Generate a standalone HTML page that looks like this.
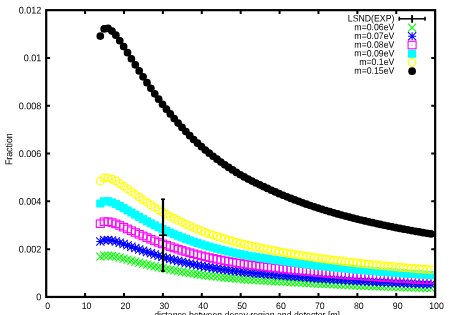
<!DOCTYPE html>
<html><head><meta charset="utf-8"><title>plot</title>
<style>html,body{margin:0;padding:0;background:#fff;overflow:hidden}svg{display:block;will-change:transform;transform:translateZ(0)}text{font-family:"Liberation Sans",sans-serif;font-size:9.4px;fill:#000}</style></head>
<body>
<svg width="450" height="315" viewBox="0 0 450 315">
<rect width="450" height="315" fill="#fff"/>
<defs>
<g id="g"><path d="M-4-4L4 4M-4 4L4-4" stroke="#00ff00" stroke-width="1.1" fill="none"/></g>
<g id="b"><path d="M-4.1-4.1L4.1 4.1M-4.1 4.1L4.1-4.1M-4 0H4M0-4V4" stroke="#0000ff" stroke-width="1.1" fill="none"/></g>
<g id="m"><rect x="-4" y="-3.75" width="8" height="7.5" stroke="#ff00ff" stroke-width="1.1" fill="none"/><rect x="-.6" y="-.6" width="1.2" height="1.2" fill="#ff00ff" opacity=".6"/></g>
<g id="c"><rect x="-4.1" y="-4" width="8.2" height="8" fill="#00ffff"/></g>
<g id="y"><circle r="3.8" stroke="#ffff00" stroke-width="1.25" fill="none"/><rect x="-.7" y="-.4" width="1.4" height=".8" fill="#ffff00" opacity=".8"/></g>
<g id="k"><circle r="3.85" fill="#000"/></g>
</defs>
<g text-anchor="middle">
<text transform="translate(47.60 308.90) rotate(0.05) scale(0.93 1)" text-anchor="middle">0</text>
<text transform="translate(86.50 308.90) rotate(0.05) scale(0.93 1)" text-anchor="middle">10</text>
<text transform="translate(125.39 308.90) rotate(0.05) scale(0.93 1)" text-anchor="middle">20</text>
<text transform="translate(164.28 308.90) rotate(0.05) scale(0.93 1)" text-anchor="middle">30</text>
<text transform="translate(203.18 308.90) rotate(0.05) scale(0.93 1)" text-anchor="middle">40</text>
<text transform="translate(242.08 308.90) rotate(0.05) scale(0.93 1)" text-anchor="middle">50</text>
<text transform="translate(280.97 308.90) rotate(0.05) scale(0.93 1)" text-anchor="middle">60</text>
<text transform="translate(319.86 308.90) rotate(0.05) scale(0.93 1)" text-anchor="middle">70</text>
<text transform="translate(358.76 308.90) rotate(0.05) scale(0.93 1)" text-anchor="middle">80</text>
<text transform="translate(397.65 308.90) rotate(0.05) scale(0.93 1)" text-anchor="middle">90</text>
<text transform="translate(436.55 308.90) rotate(0.05) scale(0.93 1)" text-anchor="middle">100</text>
</g>
<g text-anchor="end">
<text transform="translate(41.40 300.35) rotate(0.05) scale(0.925 1)" text-anchor="end" style="font-size:9.8px">0</text>
<text transform="translate(41.40 252.55) rotate(0.05) scale(0.925 1)" text-anchor="end" style="font-size:9.8px">0.002</text>
<text transform="translate(41.40 204.75) rotate(0.05) scale(0.925 1)" text-anchor="end" style="font-size:9.8px">0.004</text>
<text transform="translate(41.40 156.95) rotate(0.05) scale(0.925 1)" text-anchor="end" style="font-size:9.8px">0.006</text>
<text transform="translate(41.40 109.15) rotate(0.05) scale(0.925 1)" text-anchor="end" style="font-size:9.8px">0.008</text>
<text transform="translate(41.40 61.35) rotate(0.05) scale(0.925 1)" text-anchor="end" style="font-size:9.8px">0.01</text>
<text transform="translate(41.40 13.55) rotate(0.05) scale(0.925 1)" text-anchor="end" style="font-size:9.8px">0.012</text>
</g>
<text transform="translate(12.30 149.20) rotate(-89.95) scale(0.88 1)" text-anchor="middle" style="font-size:10px">Fraction</text>
<text transform="translate(247.10 318.00) rotate(0.05) scale(0.93 1)" text-anchor="middle">distance between decay region and detector [m]</text>
<g text-anchor="end">
<text transform="translate(394.40 21.60) rotate(0.05) scale(0.93 1)" text-anchor="end">LSND(EXP)</text>
<text transform="translate(394.40 30.30) rotate(0.05) scale(0.93 1)" text-anchor="end">m=0.06eV</text>
<text transform="translate(394.40 39.00) rotate(0.05) scale(0.93 1)" text-anchor="end">m=0.07eV</text>
<text transform="translate(394.40 47.70) rotate(0.05) scale(0.93 1)" text-anchor="end">m=0.08eV</text>
<text transform="translate(394.40 56.40) rotate(0.05) scale(0.93 1)" text-anchor="end">m=0.09eV</text>
<text transform="translate(394.40 65.10) rotate(0.05) scale(0.93 1)" text-anchor="end">m=0.1eV</text>
<text transform="translate(394.40 73.80) rotate(0.05) scale(0.93 1)" text-anchor="end">m=0.15eV</text>
</g>
<g><use href="#g" x="100.30" y="256.68"/><use href="#g" x="104.19" y="255.57"/><use href="#g" x="108.08" y="255.53"/><use href="#g" x="111.97" y="256.00"/><use href="#g" x="115.86" y="256.69"/><use href="#g" x="119.75" y="257.63"/><use href="#g" x="123.64" y="258.61"/><use href="#g" x="127.53" y="259.61"/><use href="#g" x="131.42" y="260.62"/><use href="#g" x="135.31" y="261.63"/><use href="#g" x="139.20" y="262.64"/><use href="#g" x="143.09" y="263.62"/><use href="#g" x="146.98" y="264.59"/><use href="#g" x="150.87" y="265.53"/><use href="#g" x="154.76" y="266.44"/><use href="#g" x="158.65" y="267.33"/><use href="#g" x="162.54" y="268.18"/><use href="#g" x="166.43" y="268.96"/><use href="#g" x="170.32" y="269.70"/><use href="#g" x="174.21" y="270.41"/><use href="#g" x="178.10" y="271.12"/><use href="#g" x="181.99" y="271.80"/><use href="#g" x="185.88" y="272.45"/><use href="#g" x="189.77" y="273.08"/><use href="#g" x="193.66" y="273.68"/><use href="#g" x="197.55" y="274.25"/><use href="#g" x="201.44" y="274.80"/><use href="#g" x="205.33" y="275.30"/><use href="#g" x="209.22" y="275.78"/><use href="#g" x="213.11" y="276.23"/><use href="#g" x="217.00" y="276.67"/><use href="#g" x="220.89" y="277.09"/><use href="#g" x="224.78" y="277.50"/><use href="#g" x="228.67" y="277.88"/><use href="#g" x="232.56" y="278.25"/><use href="#g" x="236.45" y="278.61"/><use href="#g" x="240.34" y="278.95"/><use href="#g" x="244.23" y="279.26"/><use href="#g" x="248.12" y="279.54"/><use href="#g" x="252.01" y="279.82"/><use href="#g" x="255.90" y="280.07"/><use href="#g" x="259.79" y="280.32"/><use href="#g" x="263.68" y="280.56"/><use href="#g" x="267.57" y="280.80"/><use href="#g" x="271.46" y="281.03"/><use href="#g" x="275.35" y="281.26"/><use href="#g" x="279.24" y="281.47"/><use href="#g" x="283.13" y="281.72"/><use href="#g" x="287.02" y="281.95"/><use href="#g" x="290.91" y="282.18"/><use href="#g" x="294.80" y="282.41"/><use href="#g" x="298.69" y="282.62"/><use href="#g" x="302.58" y="282.83"/><use href="#g" x="306.47" y="283.04"/><use href="#g" x="310.36" y="283.23"/><use href="#g" x="314.25" y="283.43"/><use href="#g" x="318.14" y="283.61"/><use href="#g" x="322.03" y="283.82"/><use href="#g" x="325.92" y="284.02"/><use href="#g" x="329.81" y="284.22"/><use href="#g" x="333.70" y="284.41"/><use href="#g" x="337.59" y="284.60"/><use href="#g" x="341.48" y="284.78"/><use href="#g" x="345.37" y="284.96"/><use href="#g" x="349.26" y="285.14"/><use href="#g" x="353.15" y="285.31"/><use href="#g" x="357.04" y="285.48"/><use href="#g" x="360.93" y="285.64"/><use href="#g" x="364.82" y="285.80"/><use href="#g" x="368.71" y="285.96"/><use href="#g" x="372.60" y="286.11"/><use href="#g" x="376.49" y="286.26"/><use href="#g" x="380.38" y="286.41"/><use href="#g" x="384.27" y="286.55"/><use href="#g" x="388.16" y="286.69"/><use href="#g" x="392.05" y="286.83"/><use href="#g" x="395.94" y="286.97"/><use href="#g" x="399.83" y="287.10"/><use href="#g" x="403.72" y="287.23"/><use href="#g" x="407.61" y="287.36"/><use href="#g" x="411.50" y="287.48"/><use href="#g" x="415.39" y="287.60"/><use href="#g" x="419.28" y="287.72"/><use href="#g" x="423.17" y="287.84"/><use href="#g" x="427.06" y="287.96"/><use href="#g" x="430.95" y="288.07"/></g>
<g><use href="#b" x="100.30" y="241.51"/><use href="#b" x="104.19" y="239.98"/><use href="#b" x="108.08" y="239.91"/><use href="#b" x="111.97" y="240.53"/><use href="#b" x="115.86" y="241.45"/><use href="#b" x="119.75" y="242.71"/><use href="#b" x="123.64" y="244.03"/><use href="#b" x="127.53" y="245.38"/><use href="#b" x="131.42" y="246.74"/><use href="#b" x="135.31" y="248.10"/><use href="#b" x="139.20" y="249.45"/><use href="#b" x="143.09" y="250.78"/><use href="#b" x="146.98" y="252.08"/><use href="#b" x="150.87" y="253.34"/><use href="#b" x="154.76" y="254.57"/><use href="#b" x="158.65" y="255.76"/><use href="#b" x="162.54" y="256.91"/><use href="#b" x="166.43" y="257.97"/><use href="#b" x="170.32" y="258.99"/><use href="#b" x="174.21" y="259.97"/><use href="#b" x="178.10" y="260.93"/><use href="#b" x="181.99" y="261.87"/><use href="#b" x="185.88" y="262.77"/><use href="#b" x="189.77" y="263.63"/><use href="#b" x="193.66" y="264.45"/><use href="#b" x="197.55" y="265.23"/><use href="#b" x="201.44" y="265.99"/><use href="#b" x="205.33" y="266.68"/><use href="#b" x="209.22" y="267.35"/><use href="#b" x="213.11" y="267.98"/><use href="#b" x="217.00" y="268.59"/><use href="#b" x="220.89" y="269.18"/><use href="#b" x="224.78" y="269.74"/><use href="#b" x="228.67" y="270.28"/><use href="#b" x="232.56" y="270.80"/><use href="#b" x="236.45" y="271.30"/><use href="#b" x="240.34" y="271.78"/><use href="#b" x="244.23" y="272.22"/><use href="#b" x="248.12" y="272.63"/><use href="#b" x="252.01" y="273.02"/><use href="#b" x="255.90" y="273.40"/><use href="#b" x="259.79" y="273.75"/><use href="#b" x="263.68" y="274.10"/><use href="#b" x="267.57" y="274.45"/><use href="#b" x="271.46" y="274.79"/><use href="#b" x="275.35" y="275.12"/><use href="#b" x="279.24" y="275.43"/><use href="#b" x="283.13" y="275.77"/><use href="#b" x="287.02" y="276.10"/><use href="#b" x="290.91" y="276.42"/><use href="#b" x="294.80" y="276.73"/><use href="#b" x="298.69" y="277.04"/><use href="#b" x="302.58" y="277.33"/><use href="#b" x="306.47" y="277.61"/><use href="#b" x="310.36" y="277.89"/><use href="#b" x="314.25" y="278.15"/><use href="#b" x="318.14" y="278.41"/><use href="#b" x="322.03" y="278.69"/><use href="#b" x="325.92" y="278.96"/><use href="#b" x="329.81" y="279.23"/><use href="#b" x="333.70" y="279.48"/><use href="#b" x="337.59" y="279.74"/><use href="#b" x="341.48" y="279.98"/><use href="#b" x="345.37" y="280.22"/><use href="#b" x="349.26" y="280.45"/><use href="#b" x="353.15" y="280.68"/><use href="#b" x="357.04" y="280.91"/><use href="#b" x="360.93" y="281.12"/><use href="#b" x="364.82" y="281.34"/><use href="#b" x="368.71" y="281.55"/><use href="#b" x="372.60" y="281.75"/><use href="#b" x="376.49" y="281.95"/><use href="#b" x="380.38" y="282.14"/><use href="#b" x="384.27" y="282.34"/><use href="#b" x="388.16" y="282.52"/><use href="#b" x="392.05" y="282.71"/><use href="#b" x="395.94" y="282.89"/><use href="#b" x="399.83" y="283.06"/><use href="#b" x="403.72" y="283.23"/><use href="#b" x="407.61" y="283.40"/><use href="#b" x="411.50" y="283.57"/><use href="#b" x="415.39" y="283.73"/><use href="#b" x="419.28" y="283.89"/><use href="#b" x="423.17" y="284.05"/><use href="#b" x="427.06" y="284.20"/><use href="#b" x="430.95" y="284.35"/></g>
<g><use href="#m" x="100.30" y="223.71"/><use href="#m" x="104.19" y="221.74"/><use href="#m" x="108.08" y="221.69"/><use href="#m" x="111.97" y="222.58"/><use href="#m" x="115.86" y="223.87"/><use href="#m" x="119.75" y="225.50"/><use href="#m" x="123.64" y="227.20"/><use href="#m" x="127.53" y="228.95"/><use href="#m" x="131.42" y="230.71"/><use href="#m" x="135.31" y="232.48"/><use href="#m" x="139.20" y="234.23"/><use href="#m" x="143.09" y="235.96"/><use href="#m" x="146.98" y="237.64"/><use href="#m" x="150.87" y="239.28"/><use href="#m" x="154.76" y="240.87"/><use href="#m" x="158.65" y="242.41"/><use href="#m" x="162.54" y="243.90"/><use href="#m" x="166.43" y="245.29"/><use href="#m" x="170.32" y="246.63"/><use href="#m" x="174.21" y="247.91"/><use href="#m" x="178.10" y="249.18"/><use href="#m" x="181.99" y="250.41"/><use href="#m" x="185.88" y="251.59"/><use href="#m" x="189.77" y="252.72"/><use href="#m" x="193.66" y="253.80"/><use href="#m" x="197.55" y="254.83"/><use href="#m" x="201.44" y="255.82"/><use href="#m" x="205.33" y="256.74"/><use href="#m" x="209.22" y="257.62"/><use href="#m" x="213.11" y="258.46"/><use href="#m" x="217.00" y="259.27"/><use href="#m" x="220.89" y="260.05"/><use href="#m" x="224.78" y="260.80"/><use href="#m" x="228.67" y="261.52"/><use href="#m" x="232.56" y="262.21"/><use href="#m" x="236.45" y="262.87"/><use href="#m" x="240.34" y="263.51"/><use href="#m" x="244.23" y="264.10"/><use href="#m" x="248.12" y="264.65"/><use href="#m" x="252.01" y="265.19"/><use href="#m" x="255.90" y="265.69"/><use href="#m" x="259.79" y="266.18"/><use href="#m" x="263.68" y="266.64"/><use href="#m" x="267.57" y="267.12"/><use href="#m" x="271.46" y="267.58"/><use href="#m" x="275.35" y="268.03"/><use href="#m" x="279.24" y="268.46"/><use href="#m" x="283.13" y="268.91"/><use href="#m" x="287.02" y="269.35"/><use href="#m" x="290.91" y="269.77"/><use href="#m" x="294.80" y="270.19"/><use href="#m" x="298.69" y="270.59"/><use href="#m" x="302.58" y="270.97"/><use href="#m" x="306.47" y="271.35"/><use href="#m" x="310.36" y="271.72"/><use href="#m" x="314.25" y="272.07"/><use href="#m" x="318.14" y="272.42"/><use href="#m" x="322.03" y="272.78"/><use href="#m" x="325.92" y="273.13"/><use href="#m" x="329.81" y="273.47"/><use href="#m" x="333.70" y="273.80"/><use href="#m" x="337.59" y="274.12"/><use href="#m" x="341.48" y="274.44"/><use href="#m" x="345.37" y="274.75"/><use href="#m" x="349.26" y="275.05"/><use href="#m" x="353.15" y="275.35"/><use href="#m" x="357.04" y="275.63"/><use href="#m" x="360.93" y="275.91"/><use href="#m" x="364.82" y="276.19"/><use href="#m" x="368.71" y="276.46"/><use href="#m" x="372.60" y="276.72"/><use href="#m" x="376.49" y="276.98"/><use href="#m" x="380.38" y="277.23"/><use href="#m" x="384.27" y="277.47"/><use href="#m" x="388.16" y="277.71"/><use href="#m" x="392.05" y="277.95"/><use href="#m" x="395.94" y="278.18"/><use href="#m" x="399.83" y="278.40"/><use href="#m" x="403.72" y="278.62"/><use href="#m" x="407.61" y="278.84"/><use href="#m" x="411.50" y="279.05"/><use href="#m" x="415.39" y="279.26"/><use href="#m" x="419.28" y="279.46"/><use href="#m" x="423.17" y="279.66"/><use href="#m" x="427.06" y="279.86"/><use href="#m" x="430.95" y="280.05"/></g>
<g><use href="#c" x="100.30" y="203.50"/><use href="#c" x="104.19" y="201.26"/><use href="#c" x="108.08" y="201.19"/><use href="#c" x="111.97" y="202.44"/><use href="#c" x="115.86" y="203.94"/><use href="#c" x="119.75" y="205.99"/><use href="#c" x="123.64" y="208.13"/><use href="#c" x="127.53" y="210.33"/><use href="#c" x="131.42" y="212.56"/><use href="#c" x="135.31" y="214.78"/><use href="#c" x="139.20" y="216.99"/><use href="#c" x="143.09" y="219.16"/><use href="#c" x="146.98" y="221.28"/><use href="#c" x="150.87" y="223.35"/><use href="#c" x="154.76" y="225.35"/><use href="#c" x="158.65" y="227.29"/><use href="#c" x="162.54" y="229.16"/><use href="#c" x="166.43" y="230.92"/><use href="#c" x="170.32" y="232.62"/><use href="#c" x="174.21" y="234.25"/><use href="#c" x="178.10" y="235.86"/><use href="#c" x="181.99" y="237.42"/><use href="#c" x="185.88" y="238.92"/><use href="#c" x="189.77" y="240.36"/><use href="#c" x="193.66" y="241.73"/><use href="#c" x="197.55" y="243.04"/><use href="#c" x="201.44" y="244.30"/><use href="#c" x="205.33" y="245.47"/><use href="#c" x="209.22" y="246.59"/><use href="#c" x="213.11" y="247.67"/><use href="#c" x="217.00" y="248.71"/><use href="#c" x="220.89" y="249.70"/><use href="#c" x="224.78" y="250.66"/><use href="#c" x="228.67" y="251.58"/><use href="#c" x="232.56" y="252.47"/><use href="#c" x="236.45" y="253.32"/><use href="#c" x="240.34" y="254.14"/><use href="#c" x="244.23" y="254.89"/><use href="#c" x="248.12" y="255.61"/><use href="#c" x="252.01" y="256.30"/><use href="#c" x="255.90" y="256.96"/><use href="#c" x="259.79" y="257.59"/><use href="#c" x="263.68" y="258.20"/><use href="#c" x="267.57" y="258.81"/><use href="#c" x="271.46" y="259.42"/><use href="#c" x="275.35" y="260.00"/><use href="#c" x="279.24" y="260.56"/><use href="#c" x="283.13" y="261.13"/><use href="#c" x="287.02" y="261.69"/><use href="#c" x="290.91" y="262.24"/><use href="#c" x="294.80" y="262.77"/><use href="#c" x="298.69" y="263.28"/><use href="#c" x="302.58" y="263.77"/><use href="#c" x="306.47" y="264.26"/><use href="#c" x="310.36" y="264.72"/><use href="#c" x="314.25" y="265.18"/><use href="#c" x="318.14" y="265.62"/><use href="#c" x="322.03" y="266.07"/><use href="#c" x="325.92" y="266.51"/><use href="#c" x="329.81" y="266.94"/><use href="#c" x="333.70" y="267.36"/><use href="#c" x="337.59" y="267.77"/><use href="#c" x="341.48" y="268.16"/><use href="#c" x="345.37" y="268.55"/><use href="#c" x="349.26" y="268.93"/><use href="#c" x="353.15" y="269.30"/><use href="#c" x="357.04" y="269.66"/><use href="#c" x="360.93" y="270.01"/><use href="#c" x="364.82" y="270.35"/><use href="#c" x="368.71" y="270.69"/><use href="#c" x="372.60" y="271.02"/><use href="#c" x="376.49" y="271.34"/><use href="#c" x="380.38" y="271.65"/><use href="#c" x="384.27" y="271.96"/><use href="#c" x="388.16" y="272.26"/><use href="#c" x="392.05" y="272.55"/><use href="#c" x="395.94" y="272.84"/><use href="#c" x="399.83" y="273.12"/><use href="#c" x="403.72" y="273.40"/><use href="#c" x="407.61" y="273.67"/><use href="#c" x="411.50" y="273.93"/><use href="#c" x="415.39" y="274.19"/><use href="#c" x="419.28" y="274.45"/><use href="#c" x="423.17" y="274.70"/><use href="#c" x="427.06" y="274.94"/><use href="#c" x="430.95" y="275.18"/></g>
<g><use href="#y" x="100.30" y="181.19"/><use href="#y" x="104.19" y="178.01"/><use href="#y" x="108.08" y="177.82"/><use href="#y" x="111.97" y="179.07"/><use href="#y" x="115.86" y="180.96"/><use href="#y" x="119.75" y="183.51"/><use href="#y" x="123.64" y="186.17"/><use href="#y" x="127.53" y="188.90"/><use href="#y" x="131.42" y="191.66"/><use href="#y" x="135.31" y="194.40"/><use href="#y" x="139.20" y="197.11"/><use href="#y" x="143.09" y="199.78"/><use href="#y" x="146.98" y="202.39"/><use href="#y" x="150.87" y="204.93"/><use href="#y" x="154.76" y="207.40"/><use href="#y" x="158.65" y="209.78"/><use href="#y" x="162.54" y="212.08"/><use href="#y" x="166.43" y="214.28"/><use href="#y" x="170.32" y="216.39"/><use href="#y" x="174.21" y="218.41"/><use href="#y" x="178.10" y="220.42"/><use href="#y" x="181.99" y="222.36"/><use href="#y" x="185.88" y="224.22"/><use href="#y" x="189.77" y="226.02"/><use href="#y" x="193.66" y="227.72"/><use href="#y" x="197.55" y="229.35"/><use href="#y" x="201.44" y="230.92"/><use href="#y" x="205.33" y="232.40"/><use href="#y" x="209.22" y="233.81"/><use href="#y" x="213.11" y="235.17"/><use href="#y" x="217.00" y="236.48"/><use href="#y" x="220.89" y="237.74"/><use href="#y" x="224.78" y="238.95"/><use href="#y" x="228.67" y="240.11"/><use href="#y" x="232.56" y="241.24"/><use href="#y" x="236.45" y="242.32"/><use href="#y" x="240.34" y="243.36"/><use href="#y" x="244.23" y="244.33"/><use href="#y" x="248.12" y="245.25"/><use href="#y" x="252.01" y="246.14"/><use href="#y" x="255.90" y="246.98"/><use href="#y" x="259.79" y="247.79"/><use href="#y" x="263.68" y="248.58"/><use href="#y" x="267.57" y="249.37"/><use href="#y" x="271.46" y="250.15"/><use href="#y" x="275.35" y="250.90"/><use href="#y" x="279.24" y="251.63"/><use href="#y" x="283.13" y="252.35"/><use href="#y" x="287.02" y="253.06"/><use href="#y" x="290.91" y="253.75"/><use href="#y" x="294.80" y="254.41"/><use href="#y" x="298.69" y="255.06"/><use href="#y" x="302.58" y="255.69"/><use href="#y" x="306.47" y="256.30"/><use href="#y" x="310.36" y="256.89"/><use href="#y" x="314.25" y="257.47"/><use href="#y" x="318.14" y="258.03"/><use href="#y" x="322.03" y="258.58"/><use href="#y" x="325.92" y="259.12"/><use href="#y" x="329.81" y="259.65"/><use href="#y" x="333.70" y="260.16"/><use href="#y" x="337.59" y="260.66"/><use href="#y" x="341.48" y="261.15"/><use href="#y" x="345.37" y="261.62"/><use href="#y" x="349.26" y="262.08"/><use href="#y" x="353.15" y="262.54"/><use href="#y" x="357.04" y="262.98"/><use href="#y" x="360.93" y="263.41"/><use href="#y" x="364.82" y="263.83"/><use href="#y" x="368.71" y="264.24"/><use href="#y" x="372.60" y="264.64"/><use href="#y" x="376.49" y="265.04"/><use href="#y" x="380.38" y="265.42"/><use href="#y" x="384.27" y="265.80"/><use href="#y" x="388.16" y="266.17"/><use href="#y" x="392.05" y="266.52"/><use href="#y" x="395.94" y="266.88"/><use href="#y" x="399.83" y="267.22"/><use href="#y" x="403.72" y="267.56"/><use href="#y" x="407.61" y="267.89"/><use href="#y" x="411.50" y="268.21"/><use href="#y" x="415.39" y="268.53"/><use href="#y" x="419.28" y="268.84"/><use href="#y" x="423.17" y="269.15"/><use href="#y" x="427.06" y="269.45"/><use href="#y" x="430.95" y="269.74"/></g>
<g><use href="#k" x="100.30" y="36.10"/><use href="#k" x="104.19" y="28.90"/><use href="#k" x="108.08" y="28.40"/><use href="#k" x="111.97" y="31.05"/><use href="#k" x="115.86" y="35.13"/><use href="#k" x="119.75" y="40.74"/><use href="#k" x="123.64" y="46.60"/><use href="#k" x="127.53" y="52.63"/><use href="#k" x="131.42" y="58.74"/><use href="#k" x="135.31" y="64.86"/><use href="#k" x="139.20" y="70.91"/><use href="#k" x="143.09" y="76.87"/><use href="#k" x="146.98" y="82.69"/><use href="#k" x="150.87" y="88.36"/><use href="#k" x="154.76" y="93.85"/><use href="#k" x="158.65" y="99.16"/><use href="#k" x="162.54" y="104.28"/><use href="#k" x="166.43" y="109.22"/><use href="#k" x="170.32" y="113.97"/><use href="#k" x="174.21" y="118.54"/><use href="#k" x="178.10" y="123.05"/><use href="#k" x="181.99" y="127.41"/><use href="#k" x="185.88" y="131.61"/><use href="#k" x="189.77" y="135.65"/><use href="#k" x="193.66" y="139.49"/><use href="#k" x="197.55" y="143.16"/><use href="#k" x="201.44" y="146.69"/><use href="#k" x="205.33" y="150.02"/><use href="#k" x="209.22" y="153.21"/><use href="#k" x="213.11" y="156.27"/><use href="#k" x="217.00" y="159.22"/><use href="#k" x="220.89" y="162.06"/><use href="#k" x="224.78" y="164.79"/><use href="#k" x="228.67" y="167.41"/><use href="#k" x="232.56" y="169.94"/><use href="#k" x="236.45" y="172.38"/><use href="#k" x="240.34" y="174.74"/><use href="#k" x="244.23" y="176.94"/><use href="#k" x="248.12" y="179.04"/><use href="#k" x="252.01" y="181.07"/><use href="#k" x="255.90" y="183.00"/><use href="#k" x="259.79" y="184.85"/><use href="#k" x="263.68" y="186.65"/><use href="#k" x="267.57" y="188.46"/><use href="#k" x="271.46" y="190.24"/><use href="#k" x="275.35" y="191.97"/><use href="#k" x="279.24" y="193.63"/><use href="#k" x="283.13" y="195.27"/><use href="#k" x="287.02" y="196.86"/><use href="#k" x="290.91" y="198.41"/><use href="#k" x="294.80" y="199.91"/><use href="#k" x="298.69" y="201.37"/><use href="#k" x="302.58" y="202.78"/><use href="#k" x="306.47" y="204.16"/><use href="#k" x="310.36" y="205.49"/><use href="#k" x="314.25" y="206.79"/><use href="#k" x="318.14" y="208.06"/><use href="#k" x="322.03" y="209.29"/><use href="#k" x="325.92" y="210.49"/><use href="#k" x="329.81" y="211.66"/><use href="#k" x="333.70" y="212.79"/><use href="#k" x="337.59" y="213.90"/><use href="#k" x="341.48" y="214.98"/><use href="#k" x="345.37" y="216.03"/><use href="#k" x="349.26" y="217.06"/><use href="#k" x="353.15" y="218.06"/><use href="#k" x="357.04" y="219.03"/><use href="#k" x="360.93" y="219.99"/><use href="#k" x="364.82" y="220.92"/><use href="#k" x="368.71" y="221.83"/><use href="#k" x="372.60" y="222.72"/><use href="#k" x="376.49" y="223.58"/><use href="#k" x="380.38" y="224.43"/><use href="#k" x="384.27" y="225.26"/><use href="#k" x="388.16" y="226.07"/><use href="#k" x="392.05" y="226.87"/><use href="#k" x="395.94" y="227.64"/><use href="#k" x="399.83" y="228.40"/><use href="#k" x="403.72" y="229.14"/><use href="#k" x="407.61" y="229.87"/><use href="#k" x="411.50" y="230.58"/><use href="#k" x="415.39" y="231.28"/><use href="#k" x="419.28" y="231.96"/><use href="#k" x="423.17" y="232.63"/><use href="#k" x="427.06" y="233.29"/><use href="#k" x="430.95" y="233.93"/></g>
<use href="#g" x="412.1" y="27.60"/>
<use href="#b" x="412.1" y="36.32"/>
<use href="#m" x="412.1" y="45.04"/>
<use href="#c" x="412.1" y="53.76"/>
<use href="#y" x="412.1" y="62.48"/>
<use href="#k" x="412.1" y="71.20"/>
<g stroke="#000" stroke-width="2.2" fill="none">
<rect x="46.2" y="10.15" width="388.95" height="286.8"/>
<path d="M85.09 296.95v-3.90M85.09 10.15v3.90M123.99 296.95v-3.90M123.99 10.15v3.90M162.88 296.95v-3.90M162.88 10.15v3.90M201.78 296.95v-3.90M201.78 10.15v3.90M240.68 296.95v-3.90M240.68 10.15v3.90M279.57 296.95v-3.90M279.57 10.15v3.90M318.46 296.95v-3.90M318.46 10.15v3.90M357.36 296.95v-3.90M357.36 10.15v3.90M396.25 296.95v-3.90M396.25 10.15v3.90M46.20 249.15h3.90M435.15 249.15h-3.90M46.20 201.35h3.90M435.15 201.35h-3.90M46.20 153.55h3.90M435.15 153.55h-3.90M46.20 105.75h3.90M435.15 105.75h-3.90M46.20 57.95h3.90M435.15 57.95h-3.90" stroke-width="2"/>
</g>
<g stroke="#000" fill="none">
<path d="M163 198.8V271.6" stroke-width="2.2"/>
<path d="M161 199.2h4M161 271.2h4" stroke-width="1.6"/>
<path d="M159 235.2h8" stroke-width="1.5"/>
<path d="M398.6 18.8H425.7" stroke-width="1.5"/>
<path d="M399.3 16.8v4M425 16.8v4" stroke-width="1.5"/>
<path d="M412.1 15.1V22.7" stroke-width="1.9"/>
</g>
</svg></body></html>
